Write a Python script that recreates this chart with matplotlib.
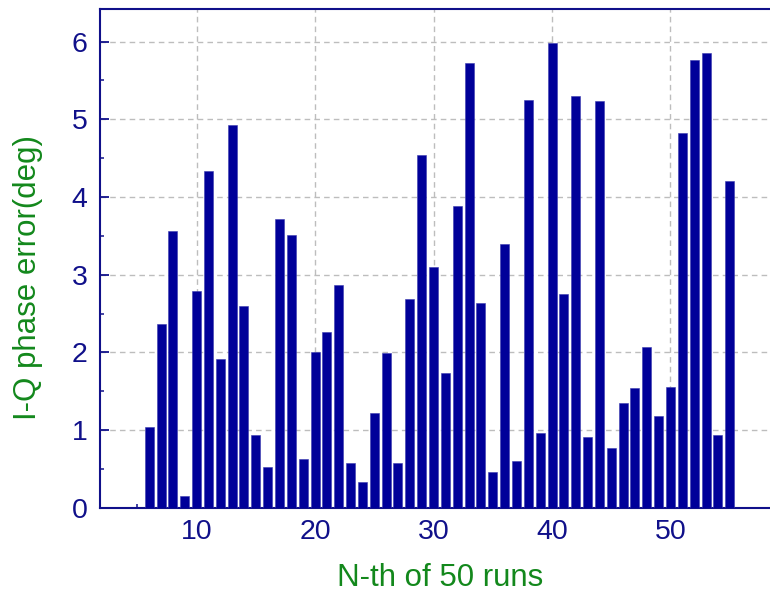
import matplotlib
matplotlib.use("Agg")
import matplotlib.pyplot as plt
from matplotlib.ticker import MultipleLocator

plt.rcParams["font.family"] = ["Liberation Sans", "DejaVu Sans"]

# phase error of each of the 50 runs (runs are numbered 6..55 on the x axis)
runs = list(range(6, 56))
phase_error = [
    1.04, 2.36, 3.56, 0.15, 2.79, 4.34, 1.92, 4.93, 2.60, 0.94,
    0.52, 3.72, 3.51, 0.63, 2.01, 2.26, 2.87, 0.58, 0.33, 1.22,
    1.99, 0.57, 2.69, 4.54, 3.10, 1.74, 3.89, 5.72, 2.63, 0.46,
    3.39, 0.60, 5.25, 0.96, 5.98, 2.75, 5.30, 0.91, 5.23, 0.77,
    1.35, 1.54, 2.07, 1.18, 1.56, 4.83, 5.76, 5.86, 0.94, 4.21,
]

BAR = "#000099"
AXIS = "#10108a"
LABEL = "#13881c"

fig = plt.figure(figsize=(7.7, 6.01), dpi=100)
ax = fig.add_axes([0.1299, 0.1552, 0.8701, 0.8298])

ax.bar(runs, phase_error, width=0.76, color=BAR, edgecolor="#3a3ab0",
       linewidth=0.4, zorder=3)

ax.set_xlim(1.85, 58.4)
ax.set_ylim(0, 6.42)
ax.xaxis.set_major_locator(MultipleLocator(10))
ax.xaxis.set_minor_locator(MultipleLocator(5))
ax.yaxis.set_major_locator(MultipleLocator(1))
ax.yaxis.set_minor_locator(MultipleLocator(0.5))

ax.grid(True, which="major", color="#bdbdbd", linestyle=(0, (4, 3)),
        linewidth=1.0, zorder=0)
ax.set_axisbelow(True)

for side in ("left", "bottom", "top"):
    ax.spines[side].set_color(AXIS)
    ax.spines[side].set_linewidth(1.5)
ax.spines["right"].set_visible(False)

ax.tick_params(which="major", direction="in", length=6.5, width=1.3,
               color=AXIS, labelcolor=AXIS, labelsize=20.5)
ax.tick_params(which="minor", direction="in", length=3, width=1.1, color=AXIS)
ax.tick_params(axis="y", which="major", pad=9)
ax.tick_params(axis="x", which="major", pad=8)
ax.tick_params(top=False, right=False, which="both")

fig.text(0.0364, 0.539, "I-Q phase error(deg)", rotation=90, color=LABEL,
         fontsize=22.5, ha="center", va="center")
fig.text(0.571, 0.038, "N-th of 50 runs", color=LABEL, fontsize=22.5,
         ha="center", va="center")

fig.savefig("out.png", dpi=100)
